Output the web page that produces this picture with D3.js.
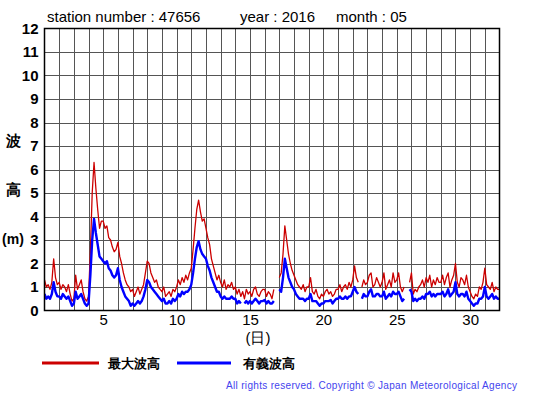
<!DOCTYPE html>
<html><head><meta charset="utf-8">
<script src="https://cdn.jsdelivr.net/npm/d3@7"></script>
<style>body{margin:0;background:#fff}svg{display:block}text{font-family:"Liberation Sans",Arial,sans-serif}</style>
</head><body>
<svg id="c" width="555" height="395"></svg>
<script>
// 3-hourly samples per day (day, day+0.125, ... day+0.875); null = missing
const maxWave = [
 1.3,1.0,1.1,0.9,1.2,2.2,1.4,1.1,
 1.2,0.9,1.1,1.0,0.8,1.1,0.7,0.4,
 0.5,1.5,0.9,1.1,1.3,0.8,0.5,0.4,
 0.6,2.5,5.0,6.3,5.2,4.3,3.5,3.8,
 3.8,3.5,3.6,3.1,3.0,2.7,2.5,2.6,
 2.9,2.3,2.0,1.6,1.3,1.1,1.0,0.8,
 0.9,0.6,0.8,1.0,0.7,0.9,1.1,1.6,
 2.1,2.0,1.6,1.4,1.2,1.3,1.0,0.9,
 0.8,1.0,0.6,0.7,0.8,0.6,0.9,0.8,
 1.0,1.3,1.1,1.4,1.2,1.5,1.3,1.6,
 1.8,2.6,3.5,4.3,4.7,4.2,3.8,3.9,
 3.5,3.1,2.8,2.2,1.9,1.6,1.3,1.5,
 1.2,1.0,1.3,0.9,1.1,1.0,1.2,0.9,
 1.0,0.7,0.9,0.6,0.8,0.5,0.9,0.7,
 0.8,0.6,0.9,1.0,0.7,0.6,0.8,0.9,
 0.9,0.6,0.8,0.7,0.5,0.9,null,null,
 1.4,1.6,2.4,3.6,3.0,2.4,2.0,1.7,
 1.5,1.3,1.1,1.0,0.9,1.1,0.8,1.0,
 1.0,1.4,0.8,0.7,0.9,0.6,0.5,0.7,
 0.6,0.8,0.9,0.7,0.8,0.6,0.7,0.9,
 0.9,1.1,0.8,1.0,1.1,0.9,1.2,1.0,
 1.3,1.9,1.4,1.2,null,1.0,1.3,1.1,
 1.2,1.5,1.6,1.0,1.1,1.4,1.2,1.0,
 1.2,1.6,0.9,1.1,1.3,1.0,1.6,1.2,
 1.3,1.6,1.0,0.8,1.0,null,null,1.2,
 1.6,0.7,0.9,0.8,1.0,1.1,1.3,1.0,
 1.4,1.2,1.5,1.0,1.3,1.1,1.4,1.2,
 1.2,1.5,1.1,1.4,1.6,1.0,1.3,1.5,
 2.0,1.2,1.0,1.4,1.3,1.1,1.5,1.0,
 0.8,0.6,0.5,0.7,0.6,1.0,0.9,1.2,
 1.8,1.1,1.0,0.9,1.2,0.8,1.0,0.9,
 0.9
];
const sigWave = [
 0.7,0.5,0.6,0.5,0.7,1.2,0.8,0.6,
 0.6,0.5,0.7,0.6,0.5,0.6,0.4,0.2,
 0.3,0.8,0.5,0.6,0.7,0.5,0.3,0.2,
 0.3,1.5,3.0,3.9,3.3,2.8,2.3,2.2,
 2.1,2.0,2.1,1.8,1.7,1.5,1.4,1.5,
 1.8,1.3,1.0,0.8,0.6,0.5,0.4,0.2,
 0.3,0.2,0.3,0.4,0.3,0.4,0.6,0.9,
 1.3,1.2,1.0,0.9,0.8,0.7,0.6,0.5,
 0.4,0.5,0.3,0.3,0.4,0.3,0.5,0.4,
 0.5,0.7,0.6,0.8,0.7,0.8,0.8,0.9,
 1.1,1.6,2.2,2.7,2.95,2.6,2.4,2.3,
 2.2,1.9,1.7,1.4,1.2,1.0,0.8,0.8,
 0.6,0.5,0.6,0.5,0.5,0.5,0.6,0.5,
 0.5,0.3,0.4,0.3,null,0.3,0.4,0.3,
 0.4,0.3,0.4,0.5,0.4,0.3,0.4,0.4,
 0.45,0.3,0.4,0.3,0.3,0.4,null,null,
 0.9,0.8,1.4,2.2,1.8,1.4,1.2,1.0,
 0.9,0.7,0.6,0.5,0.5,0.5,0.4,0.5,
 0.5,0.7,0.4,0.4,0.4,0.3,0.2,0.3,
 0.3,0.4,0.4,0.4,0.45,0.3,0.4,0.5,
 0.5,0.6,0.5,0.5,0.6,0.5,0.6,0.6,
 0.8,1.0,0.8,0.7,null,0.5,0.7,0.6,
 0.6,0.8,0.9,0.6,0.6,0.7,0.7,0.6,
 0.6,0.8,0.5,0.6,0.7,0.6,0.8,0.7,
 0.7,0.8,0.6,0.4,0.5,null,null,0.9,
 0.8,0.4,0.5,0.4,0.5,0.5,0.6,0.5,
 0.7,0.7,0.8,0.6,0.7,0.6,0.7,0.7,
 0.7,0.8,0.6,0.7,0.9,0.6,0.7,0.8,
 1.2,0.7,0.6,0.7,0.7,0.6,0.8,0.5,
 0.4,0.3,0.2,0.3,0.3,0.5,0.5,0.6,
 1.0,0.6,0.5,0.6,0.7,0.5,0.6,0.5,
 0.5
];
const samplesPerDay = 8;
const xTicks = [5,10,15,20,25,30];
const yTicks = [0,1,2,3,4,5,6,7,8,9,10,11,12];
const titleParts = ["station number : 47656","year : 2016","month : 05"];
const legendLabels = ["最大波高","有義波高"];
const seriesColors = ["#cc0000","#0000ff"];

const svg = d3.select("#c");
const L=44.5, R=499.5, T=28.5, B=310.5;
const x = d3.scaleLinear().domain([1,32]).range([L,R]);
const y = d3.scaleLinear().domain([0,12]).range([B,T]);

// grid
const g = svg.append("g");
g.selectAll(".vg").data(d3.range(2,32)).enter().append("line")
 .attr("x1",d=>Math.round(x(d))+0.5).attr("x2",d=>Math.round(x(d))+0.5)
 .attr("y1",T).attr("y2",B).attr("stroke","#555").attr("stroke-width",1);
g.selectAll(".hg").data(d3.range(1,12)).enter().append("line")
 .attr("y1",d=>Math.round(y(d))+0.5).attr("y2",d=>Math.round(y(d))+0.5)
 .attr("x1",L).attr("x2",R).attr("stroke","#555").attr("stroke-width",1);

// data
const toPts = arr => arr.map((v,i)=>({t:1+i/samplesPerDay, v}));
const line = d3.line().defined(d=>d.v!==null).x(d=>x(d.t)).y(d=>y(d.v));
const clip = svg.append("clipPath").attr("id","cp").append("rect")
 .attr("x",L).attr("y",T).attr("width",R-L).attr("height",B-T);
svg.append("path").datum(toPts(maxWave)).attr("d",line).attr("fill","none")
 .attr("stroke",seriesColors[0]).attr("stroke-width",1.3).attr("stroke-linejoin","round").attr("clip-path","url(#cp)");
svg.append("path").datum(toPts(sigWave)).attr("d",line).attr("fill","none")
 .attr("stroke",seriesColors[1]).attr("stroke-width",2.4).attr("stroke-linejoin","round").attr("clip-path","url(#cp)");

// border
svg.append("rect").attr("x",L).attr("y",T).attr("width",R-L).attr("height",B-T)
 .attr("fill","none").attr("stroke","#000").attr("stroke-width",1.5);

// axes labels
const yAxis = d3.axisLeft(y).tickValues(yTicks).tickSize(0).tickPadding(6);
const ya = svg.append("g").attr("transform",`translate(${L},0)`).call(yAxis);
ya.select(".domain").remove();
ya.selectAll("text").attr("font-size","15px").attr("font-weight","bold")
 .attr("font-family","'Liberation Sans',Arial,sans-serif").attr("fill","#000");
const xAxis = d3.axisBottom(x).tickValues(xTicks).tickSize(0).tickPadding(4);
const xa = svg.append("g").attr("transform",`translate(0,${B})`).call(xAxis);
xa.select(".domain").remove();
xa.selectAll("text").attr("font-size","15px").attr("font-family","'Liberation Sans',Arial,sans-serif").attr("fill","#000");

// title
const tx=[47,240,336];
titleParts.forEach((s,i)=>svg.append("text").attr("x",tx[i]).attr("y",22).attr("font-size","15px").text(s));

// y label
const cjk = "'Noto Sans CJK JP',sans-serif";
svg.append("text").attr("x",13).attr("y",146).attr("text-anchor","middle").attr("font-family",cjk).attr("font-weight","bold").attr("font-size","15px").text("波");
svg.append("text").attr("x",13).attr("y",195).attr("text-anchor","middle").attr("font-family",cjk).attr("font-weight","bold").attr("font-size","15px").text("高");
svg.append("text").attr("x",13).attr("y",244).attr("text-anchor","middle").attr("font-family",cjk).attr("font-weight","bold").attr("font-size","14px").text("(m)");
svg.append("text").attr("x",258).attr("y",343).attr("text-anchor","middle").attr("font-family",cjk).attr("font-size","15px").text("(日)");

// legend
const lg=[{x1:42,x2:99,tx:108},{x1:177,x2:231,tx:243}];
lg.forEach((o,i)=>{
 svg.append("line").attr("x1",o.x1).attr("x2",o.x2).attr("y1",363).attr("y2",363).attr("stroke",seriesColors[i]).attr("stroke-width",3);
 svg.append("text").attr("x",o.tx).attr("y",368).attr("font-family",cjk).attr("font-weight","bold").attr("font-size","13px").text(legendLabels[i]);
});

svg.append("text").attr("x",226).attr("y",389).attr("font-size","10px").attr("fill","#4444ee")
 .attr("textLength",291).attr("lengthAdjust","spacing").text("All rights reserved. Copyright © Japan Meteorological Agency");
</script>
</body></html>
